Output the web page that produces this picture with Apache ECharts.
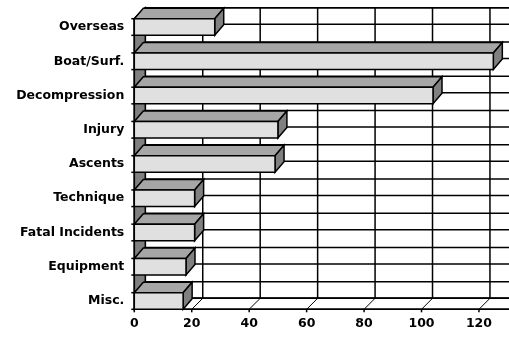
<!DOCTYPE html>
<html>
<head>
<meta charset="utf-8">
<script src="https://cdn.jsdelivr.net/npm/echarts@6/dist/echarts.min.js"></script>
<style>
html,body{margin:0;padding:0;background:#fff;}
#chart{width:509px;height:340px;}
</style>
</head>
<body>
<div id="chart"></div>
<script>
// ---- data ----
const categories = ['Overseas', 'Boat/Surf.', 'Decompression', 'Injury', 'Ascents', 'Technique', 'Fatal Incidents', 'Equipment', 'Misc.'];
const values = [28, 125, 104, 50, 49, 21, 21, 18, 17];
const xTicks = [0, 20, 40, 60, 80, 100, 120, 140];

// ---- style / layout constants ----
const WALL_DEPTH = [11, -11];
const BAR_DEPTH = [9, -10.5];
const BAR_HALF = 0.243;      // half bar thickness as fraction of band
const LW = 1.5;
const INK = '#000';
const FRONT = '#e0e0e0';
const TOP = '#a6a6a6';
const SIDE = '#808080';
const FONT = 'DejaVu Sans';

const chart = echarts.init(document.getElementById('chart'), null, {renderer: 'canvas'});

function line(x1, y1, x2, y2, w) {
  return {type: 'line', shape: {x1, y1, x2, y2}, style: {stroke: INK, lineWidth: w || LW}};
}
function poly(points, fill) {
  return {type: 'polygon', shape: {points}, style: {fill, stroke: INK, lineWidth: LW, lineJoin: 'miter'}};
}

function renderWalls(params, api) {
  const n = categories.length;
  const band = api.size([0, 1])[1];
  const half = band * BAR_HALF;
  const x0 = api.coord([xTicks[0], 0])[0];
  const xMax = api.coord([xTicks[xTicks.length - 1], 0])[0];
  const top = api.coord([0, 0])[1] - half;
  const bottom = api.coord([0, n - 1])[1] + half;
  const dx = WALL_DEPTH[0], dy = WALL_DEPTH[1];
  const rowYs = [];
  for (let i = 0; i < n; i++) {
    const c = api.coord([0, i])[1];
    rowYs.push(c - half, c + half);
  }
  const kids = [];
  // back wall
  kids.push({type: 'rect', shape: {x: x0 + dx, y: top + dy, width: xMax - x0, height: bottom - top},
    style: {fill: '#fff', stroke: INK, lineWidth: LW}});
  rowYs.forEach(y => kids.push(line(x0 + dx, y + dy, xMax + dx, y + dy)));
  xTicks.forEach(v => {
    const x = api.coord([v, 0])[0];
    kids.push(line(x + dx, top + dy, x + dx, bottom + dy));
  });
  // left side wall
  kids.push(poly([[x0, top], [x0 + dx, top + dy], [x0 + dx, bottom + dy], [x0, bottom]], SIDE));
  rowYs.forEach(y => kids.push(line(x0, y, x0 + dx, y + dy)));
  // floor
  kids.push(poly([[x0, bottom], [x0 + dx, bottom + dy], [xMax + dx, bottom + dy], [xMax, bottom]], '#fff'));
  xTicks.forEach(v => {
    const x = api.coord([v, 0])[0];
    kids.push(line(x, bottom, x + dx, bottom + dy, 1));
    kids.push(line(x, bottom, x, bottom + 3));
  });
  // front axes
  kids.push(line(x0, top, x0, bottom));
  kids.push(line(x0, bottom, xMax, bottom));
  rowYs.forEach(y => kids.push(line(x0 - 3, y, x0, y)));
  return {type: 'group', children: kids};
}

function renderBar(params, api) {
  const i = api.value(1);
  const v = api.value(0);
  const band = api.size([0, 1])[1];
  const half = band * BAR_HALF;
  const c = api.coord([0, i]);
  const e = api.coord([v, i]);
  const x0 = c[0], x1 = e[0];
  const yt = c[1] - half, yb = c[1] + half;
  const dx = BAR_DEPTH[0], dy = BAR_DEPTH[1];
  return {type: 'group', children: [
    poly([[x0, yt], [x0 + dx, yt + dy], [x1 + dx, yt + dy], [x1, yt]], TOP),
    poly([[x1, yt], [x1 + dx, yt + dy], [x1 + dx, yb + dy], [x1, yb]], SIDE),
    poly([[x0, yt], [x1, yt], [x1, yb], [x0, yb]], FRONT)
  ]};
}

const option = {
  backgroundColor: '#fff',
  animation: false,
  grid: {left: 134.3, right: -27.4, top: 9.9, bottom: 21.9, containLabel: false, outerBoundsMode: 'none'},
  xAxis: {
    type: 'value',
    min: xTicks[0], max: xTicks[xTicks.length - 1], interval: xTicks[1] - xTicks[0],
    axisLine: {show: false}, axisTick: {show: false}, splitLine: {show: false},
    axisLabel: {margin: -1, color: '#000', fontFamily: FONT, fontWeight: 'bold', fontSize: 12.5}
  },
  yAxis: {
    type: 'category', data: categories, inverse: true,
    axisLine: {show: false}, axisTick: {show: false}, splitLine: {show: false},
    axisLabel: {margin: 10, color: '#000', fontFamily: FONT, fontWeight: 'bold', fontSize: 12.5}
  },
  series: [
    {type: 'custom', z: 1, clip: false, renderItem: renderWalls, data: [[0, 0]], silent: true},
    {type: 'custom', z: 2, clip: false, renderItem: renderBar,
     data: values.map((v, i) => [v, i]), encode: {x: 0, y: 1}}
  ]
};
chart.setOption(option);
</script>
</body>
</html>
